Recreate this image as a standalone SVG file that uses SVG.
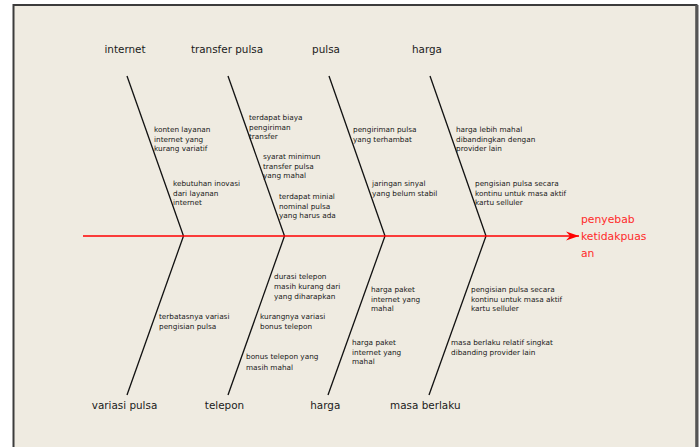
<svg xmlns="http://www.w3.org/2000/svg" width="700" height="447" viewBox="0 0 700 447">
<style>
.bg{fill:#EFEBE1;stroke:#3c3c3c;stroke-width:2}
.bone{stroke:#111;stroke-width:1.3;fill:none}
.spine{stroke:#ff0000;stroke-width:1.4;fill:none}
.cat{font-family:"DejaVu Sans",Verdana,sans-serif;font-size:10.4px;fill:#1a1a1a;text-anchor:middle}
.cause{font-family:"DejaVu Sans",Verdana,sans-serif;font-size:7.3px;fill:#1a1a1a}
.effect{font-family:"DejaVu Sans",Verdana,sans-serif;font-size:10.8px;fill:#ff2a2a}
</style>
<defs>
<marker id="arr" markerWidth="14" markerHeight="10" refX="13" refY="5" orient="auto" markerUnits="userSpaceOnUse">
<path d="M0,0.5 L13,5 L0,9.5 L4,5 Z" fill="#ff0000"/>
</marker>
</defs>
<rect class="bg" x="13.5" y="5" width="683" height="460"/>
<line x1="697" y1="5" x2="697" y2="447" stroke="#555" stroke-width="3"/>
<g id="connectors">
<line class="bone" x1="127" y1="76" x2="183.5" y2="236"/>
<line class="bone" x1="228" y1="76" x2="284.5" y2="236"/>
<line class="bone" x1="329" y1="76" x2="385" y2="236"/>
<line class="bone" x1="430" y1="76" x2="486" y2="236"/>
<line class="bone" x1="183.5" y1="236" x2="127" y2="395"/>
<line class="bone" x1="284.5" y1="236" x2="228" y2="395"/>
<line class="bone" x1="385" y1="236" x2="328" y2="395"/>
<line class="bone" x1="486" y1="236" x2="429" y2="395"/>
<line class="spine" x1="83" y1="236" x2="579" y2="236" stroke="#ff0000" marker-end="url(#arr)"/>
</g>
<g id="effect"><text class="effect" x="581"><tspan x="581" y="223">penyebab</tspan><tspan x="581" y="240">ketidakpuas</tspan><tspan x="581" y="257">an</tspan></text></g>
<g id="internet">
<text class="cat" x="125" y="53">internet</text>
<text class="cause"><tspan x="154" y="132">konten layanan</tspan><tspan x="154" y="141.5">internet yang</tspan><tspan x="154" y="151">kurang variatif</tspan></text>
<text class="cause"><tspan x="173" y="186">kebutuhan inovasi</tspan><tspan x="173" y="195.5">dari layanan</tspan><tspan x="173" y="205">internet</tspan></text>
</g>
<g id="transfer-pulsa">
<text class="cat" x="227" y="53">transfer pulsa</text>
<text class="cause"><tspan x="249" y="120">terdapat biaya</tspan><tspan x="249" y="129.5">pengiriman</tspan><tspan x="249" y="139">transfer</tspan></text>
<text class="cause"><tspan x="263" y="159">syarat minimun</tspan><tspan x="263" y="168.5">transfer pulsa</tspan><tspan x="263" y="178">yang mahal</tspan></text>
<text class="cause"><tspan x="279" y="199">terdapat minial</tspan><tspan x="279" y="208.5">nominal pulsa</tspan><tspan x="279" y="218">yang harus ada</tspan></text>
</g>
<g id="pulsa">
<text class="cat" x="326" y="53">pulsa</text>
<text class="cause"><tspan x="353" y="132">pengiriman pulsa</tspan><tspan x="353" y="141.5">yang terhambat</tspan></text>
<text class="cause"><tspan x="372" y="186">jaringan sinyal</tspan><tspan x="372" y="195.5">yang belum stabil</tspan></text>
</g>
<g id="harga-top">
<text class="cat" x="427" y="53">harga</text>
<text class="cause"><tspan x="456" y="132">harga lebih mahal</tspan><tspan x="456" y="141.5">dibandingkan dengan</tspan><tspan x="456" y="151">provider lain</tspan></text>
<text class="cause"><tspan x="475" y="186">pengisian pulsa secara</tspan><tspan x="475" y="195.5">kontinu untuk masa aktif</tspan><tspan x="475" y="205">kartu selluler</tspan></text>
</g>
<g id="variasi-pulsa">
<text class="cat" x="124.5" y="409">variasi pulsa</text>
<text class="cause"><tspan x="159" y="319">terbatasnya variasi</tspan><tspan x="159" y="328.5">pengisian pulsa</tspan></text>
</g>
<g id="telepon">
<text class="cat" x="224.5" y="409">telepon</text>
<text class="cause"><tspan x="274" y="279">durasi telepon</tspan><tspan x="274" y="289">masih kurang dari</tspan><tspan x="274" y="299">yang diharapkan</tspan></text>
<text class="cause"><tspan x="260" y="319">kurangnya variasi</tspan><tspan x="260" y="328.5">bonus telepon</tspan></text>
<text class="cause"><tspan x="246" y="359">bonus telepon yang</tspan><tspan x="246" y="370">masih mahal</tspan></text>
</g>
<g id="harga-bottom">
<text class="cat" x="325.3" y="409">harga</text>
<text class="cause"><tspan x="371" y="292">harga paket</tspan><tspan x="371" y="301.5">internet yang</tspan><tspan x="371" y="311">mahal</tspan></text>
<text class="cause"><tspan x="352" y="345">harga paket</tspan><tspan x="352" y="354.5">internet yang</tspan><tspan x="352" y="364">mahal</tspan></text>
</g>
<g id="masa-berlaku">
<text class="cat" x="425.3" y="409">masa berlaku</text>
<text class="cause"><tspan x="471" y="292">pengisian pulsa secara</tspan><tspan x="471" y="301.5">kontinu untuk masa aktif</tspan><tspan x="471" y="311">kartu selluler</tspan></text>
<text class="cause"><tspan x="451" y="345">masa berlaku relatif singkat</tspan><tspan x="451" y="354.5">dibanding provider lain</tspan></text>
</g>
</svg>
